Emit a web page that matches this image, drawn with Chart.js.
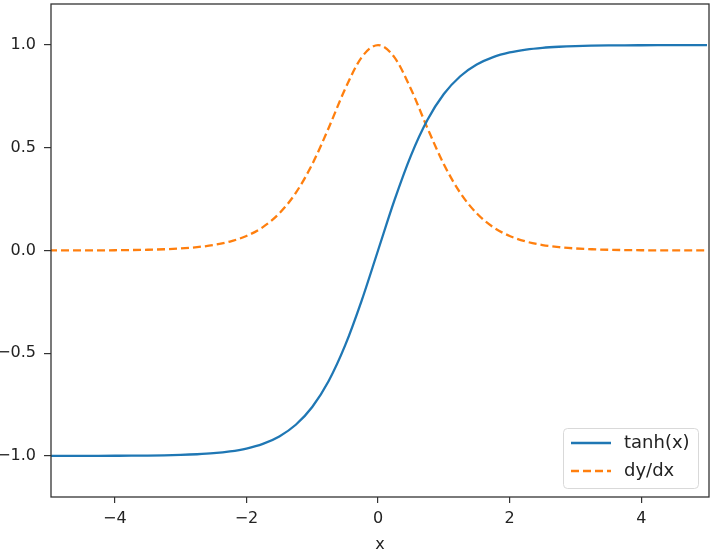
<!DOCTYPE html>
<html>
<head>
<meta charset="utf-8">
<script src="https://cdn.jsdelivr.net/npm/chart.js@4.4.1/dist/chart.umd.min.js"></script>
<style>
html, body { margin: 0; padding: 0; background: #fff; }
#wrap { width: 718px; height: 556px; }
</style>
</head>
<body>
<div id="wrap"><canvas id="chart" width="718" height="556"></canvas></div>
<script>
// values, step 0.25 from -5 to 5
let xs = [-5, -4.75, -4.5, -4.25, -4, -3.75, -3.5, -3.25, -3, -2.75, -2.5, -2.25, -2, -1.75, -1.5, -1.25, -1, -0.75, -0.5, -0.25,
  0, 0.25, 0.5, 0.75, 1, 1.25, 1.5, 1.75, 2, 2.25, 2.5, 2.75, 3, 3.25, 3.5, 3.75, 4, 4.25, 4.5, 4.75, 5];
let tanhVals = [-0.9999, -0.9999, -0.9998, -0.9996, -0.9993, -0.9989, -0.9982, -0.997, -0.9951, -0.9918, -0.9866, -0.978, -0.964, -0.9414, -0.9051, -0.8483, -0.7616, -0.6351, -0.4621, -0.2449,
  0, 0.2449, 0.4621, 0.6351, 0.7616, 0.8483, 0.9051, 0.9414, 0.964, 0.978, 0.9866, 0.9918, 0.9951, 0.997, 0.9982, 0.9989, 0.9993, 0.9996, 0.9998, 0.9999, 0.9999];
let derivVals = [0.0002, 0.0003, 0.0005, 0.0008, 0.0013, 0.0022, 0.0036, 0.006, 0.0099, 0.0164, 0.0266, 0.0435, 0.0707, 0.1138, 0.1807, 0.2805, 0.42, 0.5966, 0.7864, 0.94,
  1, 0.94, 0.7864, 0.5966, 0.42, 0.2805, 0.1807, 0.1138, 0.0707, 0.0435, 0.0266, 0.0164, 0.0099, 0.006, 0.0036, 0.0022, 0.0013, 0.0008, 0.0005, 0.0003, 0.0002];
let seriesNames = ['tanh(x)', 'dy/dx'];
let xTicks = [-4, -2, 0, 2, 4];
let yTicks = [-1, -0.5, 0, 0.5, 1];

const FONT = 'DejaVu Sans';
const blue = '#1f77b4';
const orange = '#ff7f0e';

function fmt(v, digits) {
  let s = digits ? Math.abs(v).toFixed(digits) : String(Math.abs(v));
  return (v < 0 ? '\u2212' : '') + s;
}

/* frame round the plot + legend box */
const framePlugin = {
  id: 'frame',
  afterDraw(chart) {
    const ctx = chart.ctx;
    const a = chart.chartArea;
    ctx.save();
    ctx.strokeStyle = '#333';
    ctx.lineWidth = 1.3;
    ctx.strokeRect(a.left, a.top, a.right - a.left, a.bottom - a.top);

    // legend, lower right
    let bx = 563.5, by = 428.5, bw = 135, bh = 60;
    ctx.fillStyle = 'rgba(255,255,255,0.8)';
    ctx.strokeStyle = '#d9d9d9';
    ctx.lineWidth = 1;
    ctx.beginPath();
    ctx.roundRect(bx, by, bw, bh, 4);
    ctx.fill();
    ctx.stroke();

    let rows = [
      {name: seriesNames[0], color: blue, dash: []},
      {name: seriesNames[1], color: orange, dash: [8, 4]}
    ];
    ctx.font = '18px "' + FONT + '"';
    ctx.textBaseline = 'middle';
    rows.forEach(function(r, i) {
      let y = 443 + i * 28;
      ctx.strokeStyle = r.color;
      ctx.lineWidth = 2.3;
      ctx.setLineDash(r.dash);
      ctx.beginPath();
      ctx.moveTo(571, y);
      ctx.lineTo(611, y);
      ctx.stroke();
      ctx.setLineDash([]);
      ctx.fillStyle = '#222';
      ctx.fillText(r.name, 624, y);
    });
    ctx.restore();
  }
};

new Chart(document.getElementById('chart'), {
  type: 'line',
  data: {
    datasets: [
      {
        label: seriesNames[0],
        data: xs.map((x, i) => ({x: x, y: tanhVals[i]})),
        borderColor: blue,
        borderWidth: 2.3,
        pointRadius: 0,
        cubicInterpolationMode: 'monotone',
        fill: false
      },
      {
        label: seriesNames[1],
        data: xs.map((x, i) => ({x: x, y: derivVals[i]})),
        borderColor: orange,
        borderWidth: 2.3,
        borderDash: [8, 4],
        pointRadius: 0,
        cubicInterpolationMode: 'monotone',
        fill: false
      }
    ]
  },
  options: {
    responsive: false,
    animation: false,
    layout: { padding: { top: 4, right: 9, left: 0, bottom: 0 } },
    plugins: {
      legend: { display: false },
      tooltip: { enabled: false }
    },
    scales: {
      x: {
        type: 'linear',
        min: -4.97,
        max: 5.03,
        afterBuildTicks(scale) { scale.ticks = xTicks.map(v => ({value: v})); },
        afterFit(scale) { scale.height = 59; scale.paddingLeft = 0; scale.paddingRight = 0; },
        border: { display: false },
        grid: { drawOnChartArea: false, drawTicks: true, tickLength: 6, color: '#333', lineWidth: 1.2 },
        ticks: {
          padding: 6,
          color: '#222',
          font: { family: FONT, size: 16 },
          maxRotation: 0,
          callback: v => fmt(v)
        },
        title: {
          display: true,
          text: 'x',
          color: '#222',
          font: { family: FONT, size: 16 },
          padding: { top: 2, bottom: 2 }
        }
      },
      y: {
        min: -1.2,
        max: 1.2,
        afterBuildTicks(scale) { scale.ticks = yTicks.map(v => ({value: v})); },
        afterFit(scale) { scale.width = 51; scale.paddingTop = 0; scale.paddingBottom = 0; },
        border: { display: false },
        grid: { drawOnChartArea: false, drawTicks: true, tickLength: 7, color: '#333', lineWidth: 1.2 },
        ticks: {
          padding: 8,
          color: '#222',
          font: { family: FONT, size: 16 },
          callback: v => fmt(v, 1)
        }
      }
    }
  },
  plugins: [framePlugin]
});
</script>
</body>
</html>
